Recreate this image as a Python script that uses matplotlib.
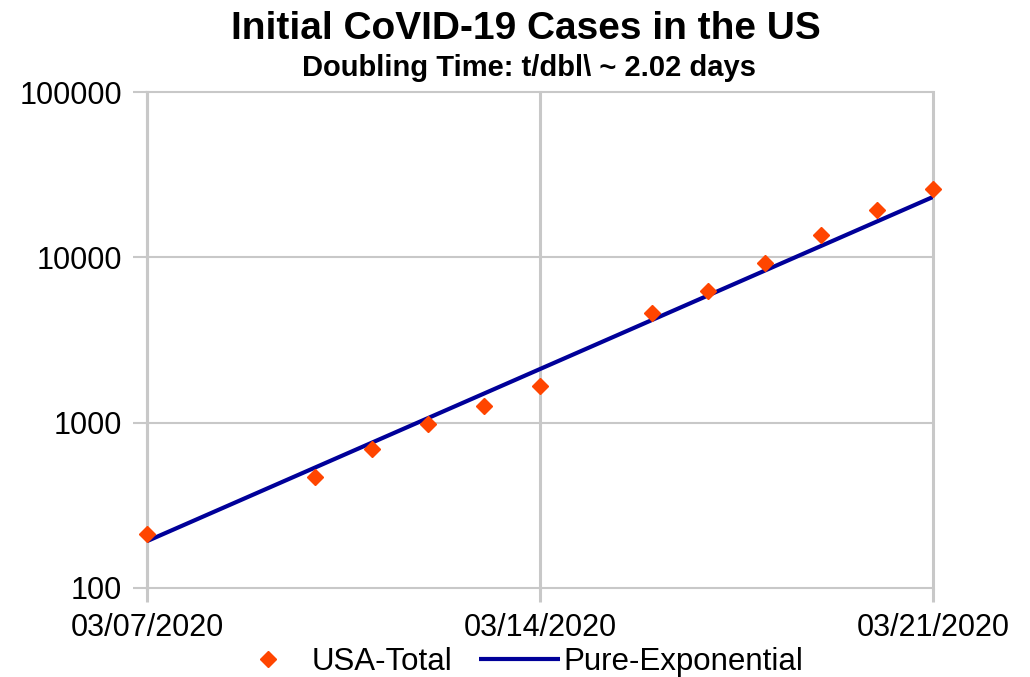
import matplotlib
matplotlib.use('Agg')
import matplotlib.pyplot as plt
import matplotlib.ticker as ticker
import pandas as pd

# Reported US totals
case_dates = ['2020-03-07', '2020-03-10', '2020-03-11', '2020-03-12', '2020-03-13',
              '2020-03-14', '2020-03-16', '2020-03-17', '2020-03-18', '2020-03-19',
              '2020-03-20', '2020-03-21']
usa_total = [213, 472, 696, 987, 1264, 1678, 4600, 6300, 9200, 13700, 19300, 25800]

# Pure exponential fit end points (straight on log axis)
fit_dates = ['2020-03-07', '2020-03-21']
fit_values = [192, 23200]

tick_dates = ['2020-03-07', '2020-03-14', '2020-03-21']
tick_labels = ['03/07/2020', '03/14/2020', '03/21/2020']
y_ticks = [100, 1000, 10000, 100000]


def run():
    plt.rcParams['font.family'] = ['Liberation Sans', 'DejaVu Sans']
    grid_c = '#c8c8c8'

    fig = plt.figure(figsize=(10.3, 6.77), dpi=100)
    ax = fig.add_axes([0.1427, 0.1315, 0.7631, 0.7325])

    x_cases = pd.to_datetime(case_dates)
    x_fit = pd.to_datetime(fit_dates)
    x_ticks = pd.to_datetime(tick_dates)

    ax.plot(x_cases, usa_total, linestyle='none', marker='D', markersize=8.5,
            color='#ff4500', label='USA-Total', zorder=4, clip_on=False)
    ax.plot(x_fit, fit_values, color='#000099', linewidth=3, label='Pure-Exponential',
            zorder=3, solid_capstyle='butt')

    ax.set_yscale('log')
    ax.set_ylim(100, 100000)
    ax.set_xlim(x_ticks[0], x_ticks[-1])
    ax.set_yticks(y_ticks)
    ax.yaxis.set_major_formatter(ticker.FuncFormatter(lambda v, p: '%d' % v))
    ax.yaxis.set_minor_locator(ticker.NullLocator())
    ax.set_xticks(x_ticks)
    ax.set_xticklabels(tick_labels)

    ax.grid(True, axis='y', color=grid_c, linewidth=1.5)
    ax.grid(True, axis='x', color=grid_c, linewidth=2.2)
    for gl in ax.xaxis.get_gridlines() + ax.yaxis.get_gridlines():
        gl.set_clip_on(False)
    ax.tick_params(axis='both', length=10, color=grid_c, labelsize=22)
    ax.tick_params(axis='y', width=1.5, pad=8)
    ax.tick_params(axis='x', width=2.2, pad=8)
    for s in ['top', 'right', 'bottom']:
        ax.spines[s].set_visible(False)
    ax.spines['left'].set_color(grid_c)
    ax.spines['left'].set_linewidth(2.2)
    ax.set_axisbelow(True)

    fig.text(0.511, 0.957, 'Initial CoVID-19 Cases in the US', ha='center', va='center',
             fontsize=28, fontweight='bold')
    fig.text(0.514, 0.9, 'Doubling Time: t/dbl\\ ~ 2.02 days', ha='center', va='center',
             fontsize=21, fontweight='bold')

    fig.legend(loc='center', bbox_to_anchor=(0.5, 0.022), ncol=2, frameon=False,
               fontsize=22.5, handlelength=2.6, columnspacing=0.85, handletextpad=0.1,
               borderaxespad=0)

    fig.savefig('out.png', dpi=100)


if __name__ == '__main__':
    run()
